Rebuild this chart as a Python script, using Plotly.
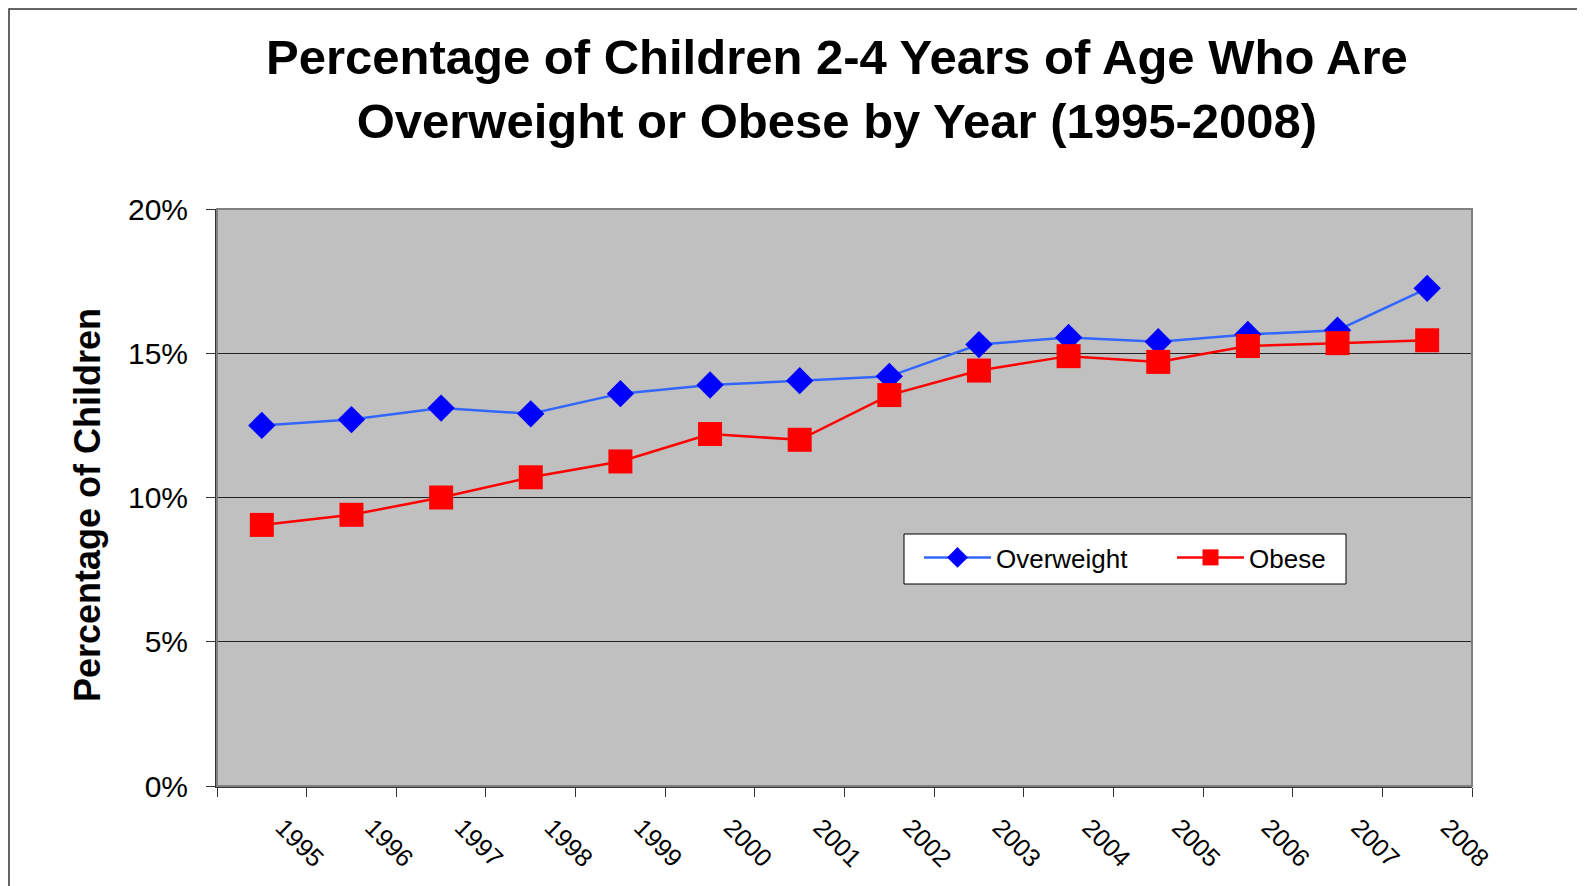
import plotly.graph_objects as go

years = ["1995", "1996", "1997", "1998", "1999", "2000", "2001",
         "2002", "2003", "2004", "2005", "2006", "2007", "2008"]
overweight = [12.5, 12.7, 13.1, 12.9, 13.6, 13.9, 14.05,
              14.2, 15.3, 15.55, 15.4, 15.65, 15.8, 17.25]
obese = [9.05, 9.4, 10.0, 10.7, 11.25, 12.2, 12.0,
         13.55, 14.4, 14.9, 14.7, 15.25, 15.35, 15.45]

font = "Arial, Liberation Sans, sans-serif"

# the page body has an 8px margin, so work in page coords minus 8
OFF = 8
FW, FH = 1585 - OFF, 886 - OFF
L, R, T, B = 217 - OFF, 1472 - OFF, 209 - OFF, 786 - OFF
W, H = R - L, B - T


def px(x):
  return (x - OFF - L) / W


def py(y):
  return (B - (y - OFF)) / H


fig = go.Figure()
fig.add_trace(go.Scatter(
    x=years, y=overweight, name="Overweight", mode="lines+markers",
    line=dict(color="#3366ff", width=2.5),
    marker=dict(symbol="diamond", size=21, color="#0000ff"),
    legend="legend"))
fig.add_trace(go.Scatter(
    x=years, y=obese, name="Obese", mode="lines+markers",
    line=dict(color="#ff0000", width=2.5),
    marker=dict(symbol="square", size=24, color="#ff0000"),
    legend="legend2"))

# one legend per series, both sitting inside a single white box
leg = dict(orientation="h", yanchor="top", xanchor="left",
           bgcolor="rgba(0,0,0,0)", borderwidth=0,
           font=dict(size=26), itemwidth=67)

fig.update_layout(
    width=FW, height=FH,
    margin=dict(l=L, r=FW - R, t=T, b=FH - B),
    paper_bgcolor="white",
    plot_bgcolor="#c0c0c0",
    font=dict(family=font, color="black"),
    showlegend=True,
    legend=dict(leg, x=px(919), y=py(534)),
    legend2=dict(leg, x=px(1172), y=py(534)),
    shapes=[
        dict(type="rect", xref="paper", yref="paper",
             x0=(1 - L) / W, x1=1.3, y0=-0.4, y1=(B - 1) / H,
             line=dict(color="#333333", width=1.5), layer="below"),
        dict(type="rect", xref="paper", yref="paper",
             x0=px(904), x1=px(1346), y0=py(584), y1=py(534),
             fillcolor="white", line=dict(color="black", width=1), layer="below"),
    ],
    annotations=[
        dict(text="<b>Percentage of Children 2-4 Years of Age Who Are<br>Overweight or Obese by Year (1995-2008)</b>",
             xref="paper", yref="paper", x=px(837), y=py(89),
             xanchor="center", yanchor="middle", showarrow=False,
             font=dict(size=49)),
        dict(text="<b>Percentage of Children</b>", textangle=-90,
             xref="paper", yref="paper", x=px(87), y=py(505),
             xanchor="center", yanchor="middle", showarrow=False,
             font=dict(size=36)),
    ],
)

fig.update_xaxes(
    type="category", tickson="boundaries", range=[-0.5, 13.5],
    showline=True, linecolor="#333333", linewidth=2, mirror=False,
    ticks="outside", ticklen=9, tickcolor="#333333",
    tickangle=45, tickfont=dict(size=25),
    ticklabelstandoff=15, ticklabelshift=21,
    showgrid=False, zeroline=False)

fig.update_yaxes(
    range=[0, 20], dtick=5, ticksuffix="%",
    showline=True, linecolor="#333333", linewidth=2,
    ticks="outside", ticklen=9, tickcolor="#333333",
    tickfont=dict(size=30), ticklabelstandoff=12,
    showgrid=True, gridcolor="#222222", gridwidth=1,
    zeroline=False)

# gray border around the plot area
fig.add_shape(type="rect", xref="paper", yref="paper", x0=0, x1=1, y0=0, y1=1,
              line=dict(color="#808080", width=2))

fig.write_html("out.html")
